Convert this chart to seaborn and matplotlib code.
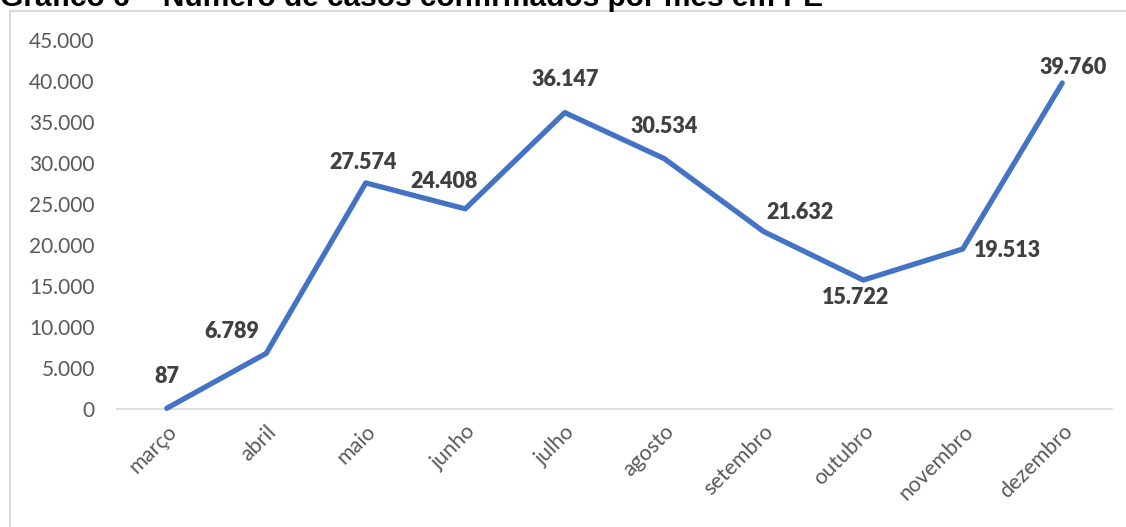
import matplotlib
matplotlib.use("Agg")
import matplotlib.pyplot as plt
import matplotlib.patches as patches
from matplotlib.ticker import FuncFormatter, MultipleLocator
import seaborn as sns
import pandas as pd

meses = ["março", "abril", "maio", "junho", "julho", "agosto",
         "setembro", "outubro", "novembro", "dezembro"]
casos = [87, 6789, 27574, 24408, 36147, 30534, 21632, 15722, 19513, 39760]
rotulos = ["87", "6.789", "27.574", "24.408", "36.147", "30.534",
           "21.632", "15.722", "19.513", "39.760"]
titulo = "Gráfico 6 – Número de casos confirmados por mês em PE"

sns.set_theme(style="white")
plt.rcParams["font.family"] = ["Lato", "DejaVu Sans"]

W, H = 1126, 527
fig = plt.figure(figsize=(W / 100, H / 100), dpi=100)
ax = fig.add_axes([117 / W, 1 - 409 / H, (1112 - 117) / W, (409 - 40) / H])

df = pd.DataFrame({"mes": meses, "casos": casos})
sns.lineplot(data=df, x="mes", y="casos", ax=ax, color="#4472C4",
             linewidth=3.8, sort=False, solid_capstyle="round")
for ln in ax.lines:
    ln.set_clip_on(False)
    ln.set_zorder(3)

ax.set_xlim(-0.5, len(meses) - 0.5)
ax.set_ylim(0, 45000)
ax.yaxis.set_major_locator(MultipleLocator(5000))
ax.yaxis.set_major_formatter(FuncFormatter(lambda v, p: f"{int(v):,}".replace(",", ".")))
ax.set_xlabel("")
ax.set_ylabel("")
for s in ["top", "right", "left"]:
    ax.spines[s].set_visible(False)
ax.spines["bottom"].set_color("#D9D9D9")
ax.spines["bottom"].set_linewidth(1.2)
ax.spines["bottom"].set_zorder(1)
ax.tick_params(axis="y", length=0, labelsize=15, labelcolor="#595959", pad=16)
ax.tick_params(axis="x", length=0, labelsize=15.5, labelcolor="#595959", pad=9)
ax.set_xticks(range(len(meses)))
ax.set_xticklabels(meses, rotation=45, ha="right", rotation_mode="anchor")

offsets = [(0, 32), (-34, 22), (-3, 20), (-21, 27), (0, 33), (0, 32),
           (36, 19), (-8, -17), (45, -2), (11, 15)]
for i, (v, lab) in enumerate(zip(casos, rotulos)):
    dx, dy = offsets[i]
    ax.annotate(lab, (i, v), xytext=(dx, dy), textcoords="offset pixels",
                ha="center", va="center", fontsize=15.5, fontweight="heavy",
                color="#404040")

rect = patches.Rectangle((10 / W, -0.05), 1.0, 1 - 11 / H + 0.05,
                         transform=fig.transFigure, fill=False,
                         edgecolor="#D9D9D9", linewidth=1.5, clip_on=False)
fig.patches.append(rect)

fig.text(0.0, 1 - 6 / H, titulo, ha="left", va="baseline",
         fontsize=21.5, fontweight="bold", family=["Liberation Sans", "DejaVu Sans"],
         color="black")

fig.savefig("out.png", dpi=100)
